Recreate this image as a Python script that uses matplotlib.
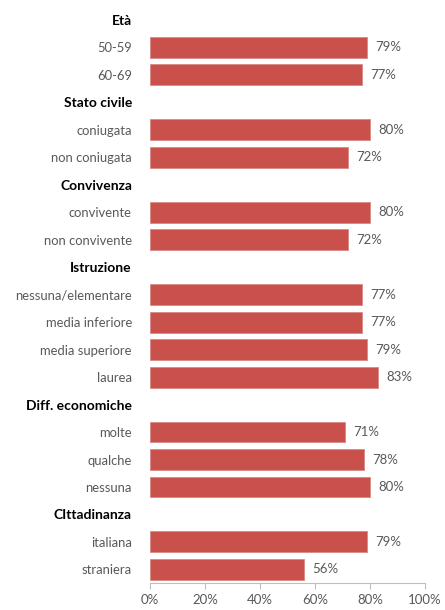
import matplotlib.pyplot as plt
from matplotlib.ticker import PercentFormatter

plt.rcParams['font.family'] = ['Lato', 'DejaVu Sans']

groups = ["Età", "Stato civile", "Convivenza", "Istruzione",
          "Diff. economiche", "CIttadinanza"]
categories = [
    ["50-59", "60-69"],
    ["coniugata", "non coniugata"],
    ["convivente", "non convivente"],
    ["nessuna/elementare", "media inferiore", "media superiore", "laurea"],
    ["molte", "qualche", "nessuna"],
    ["italiana", "straniera"],
]
values = [
    [79, 77],
    [80, 72],
    [80, 72],
    [77, 77, 79, 83],
    [71, 78, 80],
    [79, 56],
]

BAR = "#C9504B"
GREY = "#595959"

# flatten into rows: a header row for each group followed by its bars
labels, is_header, bar_y, bar_v = [], [], [], []
for g, cats, vals in zip(groups, categories, values):
    labels.append(g)
    is_header.append(True)
    for c, v in zip(cats, vals):
        bar_y.append(len(labels))
        bar_v.append(v)
        labels.append(c)
        is_header.append(False)

fig = plt.figure(figsize=(4.45, 6.10), dpi=100)
ax = fig.add_axes([0.337, 0.044, 0.618, 0.946])

ax.barh(bar_y, bar_v, height=0.76, color=BAR, edgecolor="#D98A86", linewidth=0.6)
for y, v in zip(bar_y, bar_v):
    ax.text(v + 3, y, f"{v}%", va="center", ha="left", fontsize=9.5, color=GREY)

ax.set_xlim(0, 100)
ax.set_ylim(len(labels) - 0.5, -0.5)
ax.set_yticks(range(len(labels)))
ax.set_yticklabels(labels)
for tl, h in zip(ax.get_yticklabels(), is_header):
    if h:
        tl.set_fontweight("bold")
        tl.set_color("black")
        tl.set_fontsize(10)
    else:
        tl.set_color(GREY)
        tl.set_fontsize(9.4)
ax.tick_params(axis="y", length=0, pad=13)

ax.set_xticks(range(0, 101, 20))
ax.xaxis.set_major_formatter(PercentFormatter(decimals=0))
ax.tick_params(axis="x", colors="#BFBFBF", labelcolor=GREY, labelsize=9.5,
               length=4, direction="out", pad=4)

for s in ("top", "right", "left"):
    ax.spines[s].set_visible(False)
ax.spines["bottom"].set_color("#BFBFBF")

fig.savefig("out.png", dpi=100)
